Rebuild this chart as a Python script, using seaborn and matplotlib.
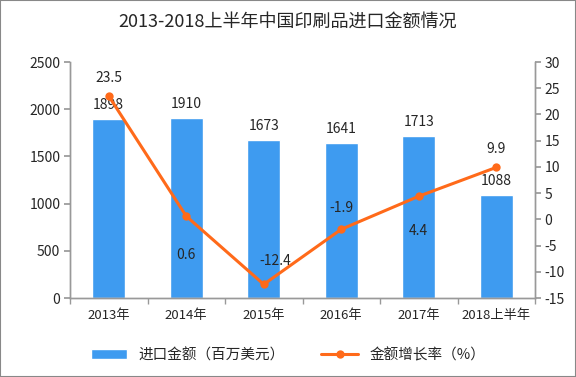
import matplotlib
matplotlib.use("Agg")
import matplotlib.pyplot as plt
import seaborn as sns
import pandas as pd
import numpy as np

categories = ["2013年", "2014年", "2015年", "2016年", "2017年", "2018上半年"]
import_value = [1898, 1910, 1673, 1641, 1713, 1088]
growth_rate = [23.5, 0.6, -12.4, -1.9, 4.4, 9.9]
bar_label = "进口金额（百万美元）"
line_label = "金额增长率（%）"
title = "2013-2018上半年中国印刷品进口金额情况"

sns.set_theme(style="white")
plt.rcParams['font.family'] = ['Noto Sans CJK SC', 'DejaVu Sans']
plt.rcParams['axes.unicode_minus'] = False

df = pd.DataFrame({"cat": categories, "val": import_value, "rate": growth_rate})
df["x"] = np.arange(len(categories))

fig = plt.figure(figsize=(5.76, 3.77), dpi=100)
ax = fig.add_axes([70/576, 1-298/377, 465/576, (298-62)/377])
bar_color = "#3E9BF0"
line_color = "#FF6A1A"

sns.barplot(data=df, x="cat", y="val", color=bar_color, width=0.43, ax=ax,
            saturation=1, label=bar_label)
ax.set_ylim(0, 2500)
ax.set_xlim(-0.5, len(categories) - 0.5)
ax.set_yticks(range(0, 2501, 500))
ax.set_xlabel("")
ax.set_ylabel("")

ax2 = ax.twinx()
sns.lineplot(data=df, x="x", y="rate", color=line_color, linewidth=2.2, marker="o",
             markersize=6, markeredgewidth=0, ax=ax2, label=line_label, legend=False)
ax2.set_ylim(-15, 30)
ax2.set_yticks(range(-15, 31, 5))
ax2.set_xlim(-0.5, len(categories) - 0.5)
ax2.set_ylabel("")
ax2.set_xlabel("")

for i, v in enumerate(import_value):
    ax.annotate(str(v), (i, v), xytext=(0, 5), textcoords="offset points",
                ha="center", va="bottom", fontsize=10)

offsets = [(0, 8), (0, -33), (8, 12), (0, 10), (0, -30), (0, 8)]
for i, (r, off) in enumerate(zip(growth_rate, offsets)):
    ax2.annotate(f"{r}", (i, r), xytext=off, textcoords="offset points",
                 ha="center", va="bottom", fontsize=10)

spine_col = "#999999"
for a in (ax, ax2):
    a.spines["top"].set_visible(False)
    for s in ("left", "right", "bottom"):
        a.spines[s].set_color(spine_col)
        a.spines[s].set_linewidth(1)
ax.tick_params(axis="y", length=4, color=spine_col, labelsize=10, left=True, pad=3)
ax2.tick_params(axis="y", length=4, color=spine_col, labelsize=10, right=True, pad=3)
ax.tick_params(axis="x", length=0, labelsize=9.5, pad=8)
ax.set_xticks(np.arange(-0.5, len(categories), 1), minor=True)
ax.tick_params(axis="x", which="minor", length=4, color=spine_col, bottom=True)

fig.text(0.5, 1 - 22/377, title, ha="center", va="center", fontsize=13, fontweight="medium")

h1, l1 = ax.get_legend_handles_labels()
h2, l2 = ax2.get_legend_handles_labels()
if ax.get_legend():
    ax.get_legend().remove()
fig.legend(h1 + h2, l1 + l2, loc="center", bbox_to_anchor=(0.5, 1 - 355/377), ncol=2,
           frameon=False, fontsize=10.5, handlelength=2.5, columnspacing=2.5)

fig.patches.append(plt.Rectangle((0, 0), 1, 1, transform=fig.transFigure, fill=False,
                                 edgecolor="#888888", linewidth=1.5))
fig.savefig("out.png", dpi=100)
